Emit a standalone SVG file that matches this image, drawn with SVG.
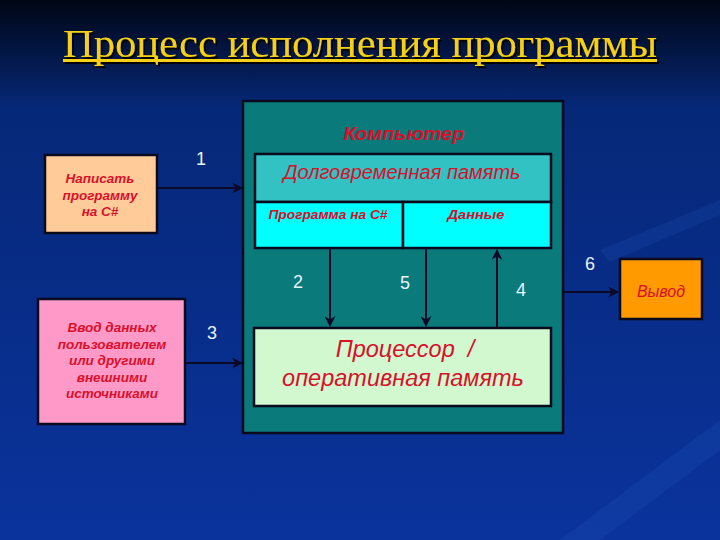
<svg xmlns="http://www.w3.org/2000/svg" width="720" height="540" viewBox="0 0 720 540">
<defs>
<linearGradient id="bg" x1="0" y1="0" x2="0" y2="1">
<stop offset="0" stop-color="#000614"/>
<stop offset="0.2" stop-color="#062878"/>
<stop offset="1" stop-color="#0a339c"/>
</linearGradient>
<filter id="sh" x="-5%" y="-20%" width="110%" height="140%">
<feDropShadow dx="2" dy="2" stdDeviation="0.4" flood-color="#000000" flood-opacity="1"/>
</filter>
<marker id="ah" viewBox="0 0 10 10" refX="9" refY="5" markerWidth="5.5" markerHeight="5.5" orient="auto" markerUnits="strokeWidth">
<path d="M0,0 L10,5 L0,10 L3,5 Z" fill="#0a0a28"/>
</marker>
<style>
.box{stroke:#0a0a1e;stroke-width:2.5}
.con{stroke:#0a0a28;stroke-width:2;fill:none;marker-end:url(#ah)}
.num{font-family:"Liberation Sans",Arial,sans-serif;font-size:18px;fill:#e8f4ff;text-anchor:middle}
.bi{font-family:"Liberation Sans",Arial,sans-serif;font-weight:bold;font-style:italic;fill:#d8102a;text-anchor:middle}
.it{font-family:"Liberation Sans",Arial,sans-serif;font-style:italic;fill:#d8102a;text-anchor:middle}
</style>
</defs>
<rect width="720" height="540" fill="url(#bg)"/>
<path d="M560,540 L720,420 L720,450 L600,540 Z" fill="#1a4ab0" opacity="0.35"/>
<path d="M600,250 L720,200 L720,215 L610,262 Z" fill="#1a4ab0" opacity="0.25"/>
<g id="title" filter="url(#sh)">
<text x="360" y="57" font-family="Liberation Serif,'Times New Roman',serif" font-size="39" fill="#f5d012" text-anchor="middle" textLength="594" lengthAdjust="spacingAndGlyphs">Процесс исполнения программы</text>
<rect x="63" y="59" width="594" height="3" fill="#f5d012"/>
</g>
<g id="computer">
<rect class="box" x="243" y="101" width="320" height="332" fill="#0a7a7a"/>
<text class="bi" x="404" y="140" font-size="18" textLength="121" lengthAdjust="spacingAndGlyphs">Компьютер</text>
</g>
<g id="longterm">
<rect class="box" x="255" y="154" width="296" height="48" fill="#33c2c4"/>
<text class="it" x="402" y="179" font-size="20">Долговременная память</text>
</g>
<g id="program">
<rect class="box" x="255" y="202" width="148" height="46" fill="#00ffff"/>
<text class="bi" x="328" y="219" font-size="13" textLength="119" lengthAdjust="spacingAndGlyphs">Программа на С#</text>
</g>
<g id="data">
<rect class="box" x="403" y="202" width="148" height="46" fill="#00ffff"/>
<text class="bi" x="476" y="219" font-size="13" textLength="57" lengthAdjust="spacingAndGlyphs">Данные</text>
</g>
<g id="cpu">
<rect class="box" x="254" y="328" width="297" height="78" fill="#d2f8d0"/>
<text class="it" x="405" y="357" font-size="23.5">Процессор&#160; /</text>
<text class="it" x="403" y="386" font-size="23.5">оперативная память</text>
</g>
<g id="write">
<rect class="box" x="45" y="155" width="112" height="78" fill="#ffcc99"/>
<text class="bi" x="100" y="183" font-size="13.5">Написать</text>
<text class="bi" x="100" y="200" font-size="13.5">программу</text>
<text class="bi" x="100" y="216" font-size="13.5">на С#</text>
</g>
<g id="input">
<rect class="box" x="38" y="299" width="147" height="125" fill="#ff99c8"/>
<text class="bi" x="112" y="332" font-size="13.5">Ввод данных</text>
<text class="bi" x="112" y="349" font-size="13.5">пользователем</text>
<text class="bi" x="112" y="365" font-size="13.5">или другими</text>
<text class="bi" x="112" y="382" font-size="13.5">внешними</text>
<text class="bi" x="112" y="398" font-size="13.5">источниками</text>
</g>
<g id="output">
<rect class="box" x="620" y="259" width="82" height="60" fill="#ff9a00"/>
<text class="it" x="661" y="297" font-size="16" fill="#e0201a">Вывод</text>
</g>
<g id="connectors">
<line class="con" x1="157" y1="188" x2="242" y2="188"/>
<line class="con" x1="330" y1="249" x2="330" y2="326"/>
<line class="con" x1="426" y1="249" x2="426" y2="326"/>
<line class="con" x1="497" y1="327" x2="497" y2="250"/>
<line class="con" x1="185" y1="363" x2="242" y2="363"/>
<line class="con" x1="564" y1="292" x2="618" y2="292"/>
<text class="num" x="201" y="165">1</text>
<text class="num" x="298" y="288">2</text>
<text class="num" x="212" y="339">3</text>
<text class="num" x="521" y="296">4</text>
<text class="num" x="405" y="289">5</text>
<text class="num" x="590" y="270">6</text>
</g>
</svg>
